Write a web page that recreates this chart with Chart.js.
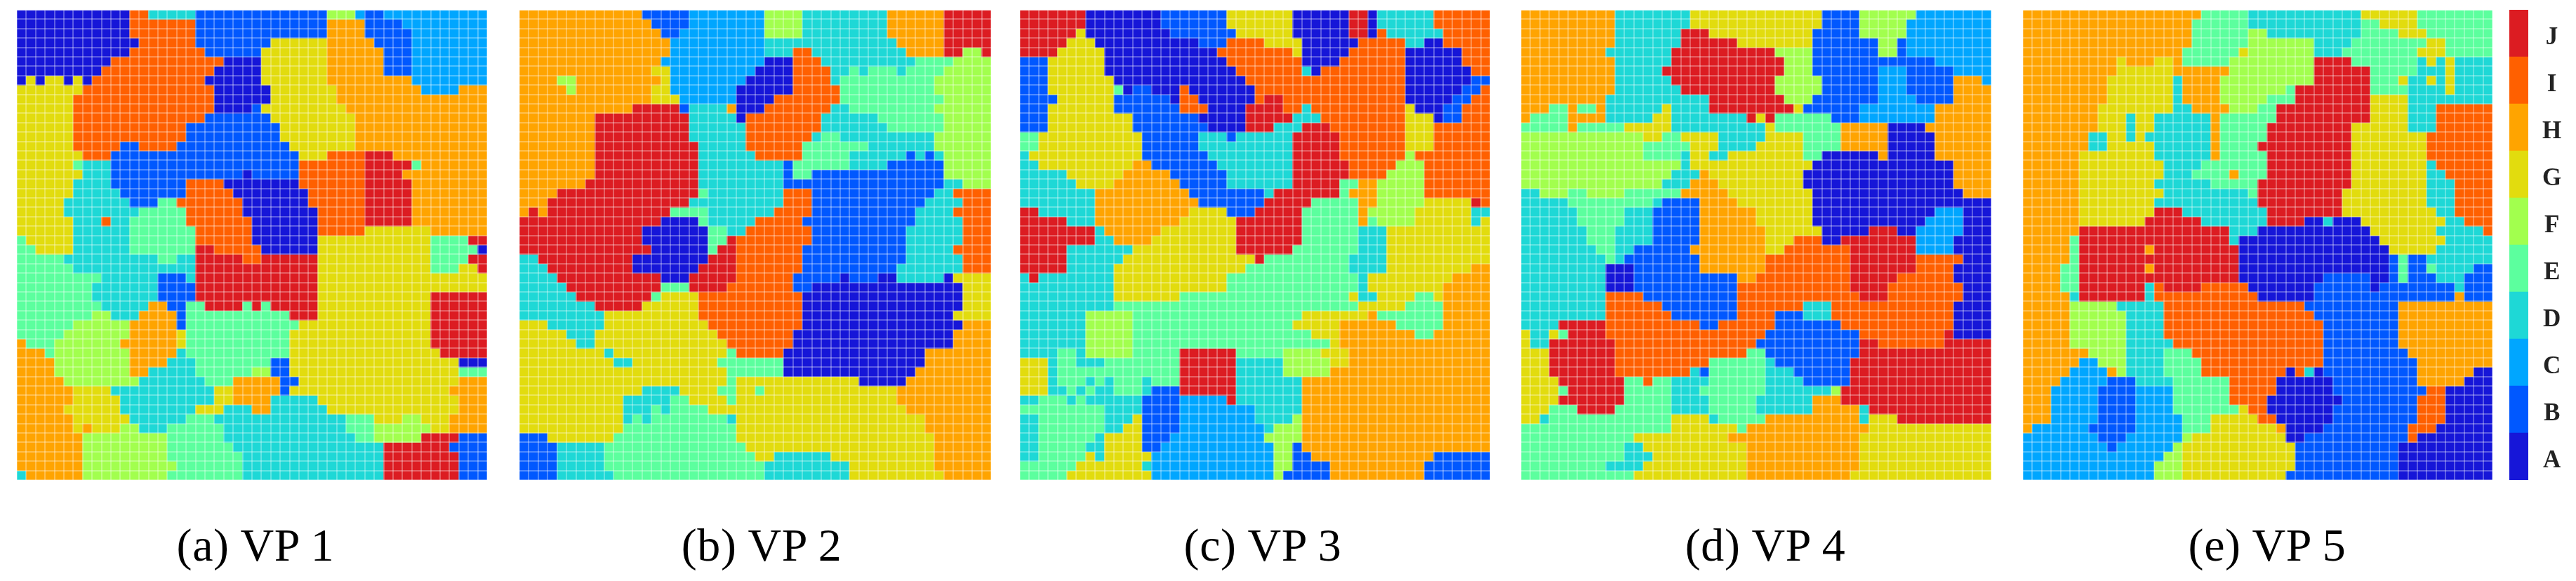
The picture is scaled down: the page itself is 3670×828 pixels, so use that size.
<!DOCTYPE html>
<html>
<head>
<meta charset="utf-8">
<title>VP maps</title>
<script src="https://cdn.jsdelivr.net/npm/chart.js@4/dist/chart.umd.min.js"></script>
<style>
  html, body { margin: 0; padding: 0; background: #fff; width: 3670px; height: 828px; overflow: hidden; }
  canvas { position: absolute; filter: blur(0.7px); }
  .caption {
    position: absolute; top: 737px; transform: translateX(-50%);
    font: 66px "Liberation Serif", serif; color: #000; white-space: pre; line-height: 80px;
    letter-spacing: 0.6px; filter: blur(0.5px);
  }
</style>
</head>
<body>
<script>
// ---- categories and colours ----
const categories = ["A", "B", "C", "D", "E", "F", "G", "H", "I", "J"];
const categoryColors = ["#1616d8", "#0058ff", "#00a6ff", "#1ed8d6", "#5cff9e", "#a2ff4e", "#e2dc0e", "#ffa400", "#ff6000", "#dc1c22"];
const captions = ["(a) VP 1", "(b) VP 2", "(c) VP 3", "(d) VP 4", "(e) VP 5"];

// ---- cell values, one string per row from the top: letter + column where that run ends ----
const vp1Rows = [
  "A12I14D19B33F36C37B39C50", "A12I19B33H37B41C50", "A12I19B33H37B42C50", "A13I19B27G33H38B42C50", "A12I20B26G33H39B42C50",
  "A10I22A26G33H39B42C50", "A9I21A26G33H39B42C50", "A1G2A3G5A6G7A8I20A26G33H42C50", "G7I21A27G34H43C47H50", "G6I21A27G34H50",
  "G6I21A25B26G35H50", "G6I20B27G36H50", "G6I18B28G36H50", "G6I18B28G36H50", "G6I11B13I17B29G36H50",
  "G7I10B30G33I37J40H50", "G6E7D10B30I37J42E43H50", "G7D10B24A25B30I37J41H50", "G6D10B18I22A30I37J42H50", "G6D11B18I23A31I37J42H50",
  "G5D12B15E17I24A31I37J42H50", "G5D13E18I24A32I37J42H50", "G6D9I10D12E18I25A32I37J42H50", "G6D12E19I25A32I37G44H50", "E1G6D12E19I25A32G44E48J50",
  "E2G6D12E19J21I26A32G44E49A50", "E5D15E17D19J24I26J32G44E48J50", "E6D19J32G44E47G49J50", "E9D15B18D19J32G50", "E8D15B19J32G50",
  "E8D15B19J32G44J50", "E9D14H16B18E20J24E25J26E27J32G44J50", "E8F10D13H17B18E29J32G44J50", "E6F12H17B18E30G44J50", "E5F12H17G18E29G44J50",
  "H1E4F11H17G18E29G44J50", "H3E4F12H17D18E29G45J50", "H4F12H16D19E27B29G47A50", "H4F12H14D19E25F27B29G47E50", "H5F13D20E23H28B30G47H50",
  "H6G10D21G23H28B29G46H50", "H6G11D21G23H27D32G47H50", "H5G11D19G22D25H27D33G47H50", "H6G12D18E21D35E38G41F43G46H50", "H6G7H8G11F13D16E22D35E38F44G46H50",
  "H7F16E22D36E38F43J47B50", "H7F16E23D39J46B50", "H7F16E24D39J47B50", "H7F17E24D39J47B50", "D1H7F16E24D39J47B50"
];
const vp2Rows = [
  "H13B18C26F30D39H45J50", "H14B18C26F30D39H45J50", "H15B17C26F30D39H45J50", "H16C26D40H45J50", "H16C26D29I31D41H45J47F49J50",
  "H15C26A29I32D42E46F50", "H14G16C25A29I33D35E36D37E40D41E45F50", "H4F6H15G16C24A29I33D34E44F50", "H5F6H14G16C23A29I34E44F50", "H14G17C23A27I34E45F50",
  "H12J17B18D22H23A26I33D35E44F50", "H8J18D23A24I32D38E45F50", "H8J18D24I32D39E45F50", "H8J18D24I31D32E34D44F50", "H8J19D24I30E37D44F50",
  "H8J19D25I30E35D41B42D43B44D45F50", "H8J19D28B29E35D39B45F50", "H8J19D28B29E31B45F50", "H7J19D28B45D47F50", "H4J19E20D28I31B44D46I50",
  "H3J18D28I31B43D47I50", "H1J2H3J16E20D27I31B42D46I50", "J15A19E20D25I30B42D47I50", "J13A20E22D24I31B41D47I50", "J13A20E22J23I31B41D47I50",
  "J14A20E21J23I30B41D46I50", "D2J12A20J23I30B41D47I50", "D3J12A19J23I30B40D47I50", "D4J15A18J23I29B34A35B38A40D45A46G50", "D5J15E18J22I29B31A47G50",
  "D6J14E15G19I30A47G50", "D8J13G19I30A47G50", "D9G19I30A46G50", "G3D9G20I30A47H50", "G5D8G21I29A46H50",
  "G6D8G22I29A46H50", "G9D10G22E23I28A43H50", "G10D12G21E28A43H50", "G22E28A42H50", "G22E23G36A41H50",
  "G13D17G21E23G25E26G40H50", "G11D16E18G22E23G40H50", "G11D14E15D16E20G41H50", "G11D12E13D14E22D23G43H50", "G11E23G43H50",
  "B3G10E23G44H50", "B4D9E24G44H50", "B4D9E25G27D33G44H50", "B4D9E26D35G44H50", "B4D10E26D35G45H50"
];
const vp3Rows = [
  "J7A15B22G29A35J37A38D44I50", "J7A15B22G29A35J37A38D44I50", "J6G7A16B23G29A35J37A38I39D45I50", "J5G8A19B22I26G30A36I41D43A45I50", "J4G9A21I29G30A35I41A47I50",
  "B3G9A22I30A34I41A47I50", "B3G9A23I30D31A32I41A48I50", "B3G10A24I41A48B50", "B3G10E11A12B14A17I18A25I41A47B49I50", "B4G10B16A17I19A25I26J28I41A46B48I50",
  "B3G10B17I20A24J28I30D31I41G42A45B47I50", "B3G12B19A24J29D32I41G44A45B47I50", "B3G12B20A24J27D30J33I41G44I50", "E2G13B19D22B23D29J34I41G44I50", "E2G13B19D29J34I41G44I50",
  "D1G13B20D29J34I41F42I50", "D2G12H14B21D29J35I40F43I50", "D5G11H16B22D29J35I39F43I50", "D6G10H17B22D29J34E36H38F43I50", "D8H18B26D27J34E35H38F43I50",
  "D8H19B26J31E36H38F43G48J49I50", "J2D8H18G22B25J30E36H37F42G48D50", "J5D8H17G23J30E36H37E38F42G48D49G50", "J8D9H15G23J30E36D39G50", "J8D10H14G23J30E36D39G50",
  "J5D12G23J29E36D39G50", "J5D11G25J26E35D39G50", "J5D10G24E35D39G48H50", "D1J2D10G22E36D37G46H50", "D10G22E36D37G45H50",
  "D10G17E35G36D38G42E44G45H50", "D10E36G41E45H50", "D7F12E30G37H38E45H50", "D7F12E29G34H40E45H50", "D7F12E31G34H42E44H50",
  "D7F12E33G34H50", "D4E6D7F12E17J23E28F32G35H50", "G3D4E6D9E17J23D28F33G35H50", "G3D4E17J23D28F33H50", "G3D4E7D8E9D10E13D14E17J23D30H50",
  "G3D5E6D7E8D10E13D14B17J23D30H50", "D2E5D6E7D13B17C22J23D30H50", "E9D13B17C25D30H50", "D2E9D12G13B17C25D29F30H50", "D2E9D11G13B17C26D27F30H50",
  "D2E8D9G13B16C26F30H50", "D2E7D9G13B15C27F29B30H50", "D2E7G8D9G14C27F29B31H44B50", "E6G13D14C27F29B33H43B50", "E5G14C27F28B33H43B50"
];
const vp4Rows = [
  "H10D18G32B36F42C50", "H10D18G32B36F41C50", "H10D17J20G31B36F41C50", "H10D17J23G31B38F40B41C50", "H9D16J27F31B38F40B41C50",
  "H10D16J28F31B44C50", "H10D15J28F31B38C41B46C50", "H10D16J27F32B38C41B46H49C50", "H10D17J27F32B38C41B46H50", "H9D20J28F31B38C42B46H50",
  "H3E5H6E8H9D15G16D20J29G30B36C44H50", "H1E5H9D14G16D24J25G26J27E33B36C44H50", "E5H6E11G16D26G27E34H39A43H50", "F13G15E17G21D26G30E34H39A44H50", "F13E18G21D25G30E34H39A44H50",
  "F13E17D18G20D22G30E32A38H39A44H50", "F17D18G31A46H50", "F16D19H20G30A46H50", "F15D18H21G30A46H50", "D2F5E7F11E17H22G31A47H50",
  "D5E14D15B19H23G31A50", "D6E11D14B19H25G31A44C47A50", "D6E11D14B19H25G31A43C47A50", "D7E10D14B19H26G32A37J40A42C47A50", "D7E10D14B19H26G29I32A34J42C46A50",
  "D8E10D12B18H26G28I35J42C46A50", "D9E10D11B19H26I35J42I47A50", "D9A12B19H26I35J42I46A50", "D9A12B23H25I35J40I46A50", "D9A12B23I35J39I47A50",
  "D9I13B23I36J39I47A50", "D9I15B23I30D33I46A50", "D9I16B23I27B30D33I46A50", "D4J9I19B21I27B34I46A50", "G1D3G4E5J9I26B36I45J46A50",
  "G1D3J10I25B36J38I45J50", "G3J10I24E26B36J50", "G3J10I20E26D27B35J50", "G3J10I18D19B20E26D29B35J50", "G4J11E13I14E16D20E26D30B35J50",
  "G4E5J11E16D19E26D33F34J50", "G4J11E16D20E25D31H34J50", "G3E6J10E16D20E25D31H36D37J50", "G2D3E16G20D21E26H36D37G40J50", "E16G23E24H37G50",
  "E12G22H36G50", "E11D13G24H36G50", "E11D14G24H36G50", "E9D13G24H36G50", "E12G24H35G50"
];
const vp5Rows = [
  "H19E24D36G42E50", "H18E24D36E38G42E50", "H18E24F26D36E40G43E50", "H18E24F31D35E43G45E50", "H17E23G24F31D34E42G45E50",
  "H10G11H14G16H17E22F31J35E42D43G44D45G46D50", "H10G16H22F31J37E42D45G46D50", "H9G16D17H21F31J37E40G41D43G44D45G46D50", "H9G16D17H21F28E29J37E41D45G46D50", "H9G16D17H21F26E29J37G41D50",
  "H8G16D18H22F25E27J37G41D44I50", "H8G11D12G14D20H21E27J37G41D44I50", "H8G11D12G14D20H21E26J35G41D44I50", "H7D9G11D12G13D20H21E26J35G43I50", "H7D9G14D20H21E25J35G43I50",
  "H6G14D20H21E26J35G43I50", "H6G15D19E26J35G43D44I50", "H6G15D18E22H23E26J35G43D45I50", "H6G14D20E25J35G43D46I50", "H6G15D24E25J34G43D46I50",
  "H6G14D25J34G43D46I50", "H6G14J17D26J34G44D46I50", "H6G13J19D26J30A32D33A36G45D47I50", "H6J22D25A37G44D49I50", "H5E6J22D23A38G45D50",
  "H5E6J13H14J23A39G44D50", "H5E6J23A39B40E41B43D50", "H4E6J13H14J23A39B40E41B43E44D48B50", "H4E6J23A32B37A39B40E41B44D47B50", "H4E6J13D14I15J19I24A31B37A38B46D47B50",
  "H5D6J13D14I25A31B46H47B50", "H5F10D15I30B40H50", "H5F11D15I31B40H50", "H5F11D15I32B40H50", "H5F11D15I32B40H50",
  "H5F11D16I32B40H50", "H7F11D15E18I32B41H50", "H6C8F11D15E19I32B42H50", "H5C9H10F11D15E19I28A29I30D31A32B42H48A50", "H4C9B12D16E22I27A33B42H47A50",
  "H3C8B12C16E22I27A33B43I45A50", "H3C8B12C16E22I26A34B42I45A50", "H3C8B12C16E23G24I26A33B42I45A50", "H3C8B12C17E20G25I27A33B42I45A50", "H1C7B12C17E20G27H28A32B41I44A50",
  "C8B11C17F18G28A30B41I42A50", "C9B10C16F17G29B40A50", "C15F17G29B40A50", "C14F17G29B40A50", "C14F17G28B40A50"
];
const panels = [vp1Rows, vp2Rows, vp3Rows, vp4Rows, vp5Rows];

// ---- layout ----
const panelLeft = [24, 740, 1453, 2167, 2882];
const panelWidth = [670, 672, 670, 670, 669];
const captionCenter = [364, 1085, 1799, 2515, 3230];
const panelTop = 14;
const panelHeight = 670;
const gridSize = 50;

function addCanvas(left, top, width, height) {
  const c = document.createElement("canvas");
  c.width = width;
  c.height = height;
  c.style.left = left + "px";
  c.style.top = top + "px";
  c.style.width = width + "px";
  c.style.height = height + "px";
  document.body.appendChild(c);
  return c;
}

// turns "A12I14..." into one letter per column
function decodeRow(row) {
  const cells = [];
  for (const m of row.matchAll(/([A-J])(\d+)/g)) {
    while (cells.length < Number(m[2])) cells.push(m[1]);
  }
  return cells;
}

const columnLabels = [...Array(gridSize).keys()].map(String);

function drawPanel(rows, i) {
  const canvas = addCanvas(panelLeft[i], panelTop, panelWidth[i], panelHeight);
  const datasets = rows.map(row => {
    const cells = decodeRow(row);
    return {
      data: cells.map(() => 1),
      backgroundColor: cells.map(l => categoryColors[categories.indexOf(l)]),
      borderWidth: 0,
      barPercentage: 1,
      categoryPercentage: 1
    };
  });

  new Chart(canvas, {
    type: "bar",
    data: { labels: columnLabels, datasets },
    options: {
      responsive: false,
      animation: false,
      devicePixelRatio: 1,
      layout: { padding: 0 },
      plugins: { legend: { display: false }, tooltip: { enabled: false } },
      scales: {
        x: {
          stacked: true,
          border: { display: false },
          ticks: { display: false, autoSkip: false },
          grid: { offset: true, z: 1, color: "rgba(255,255,255,0.3)", lineWidth: 2, drawTicks: false }
        },
        y: {
          stacked: true,
          reverse: true,
          min: 0,
          max: gridSize,
          border: { display: false },
          ticks: { display: false, stepSize: 1, maxTicksLimit: gridSize + 1 },
          grid: { z: 1, color: "rgba(255,255,255,0.3)", lineWidth: 2, drawTicks: false }
        }
      }
    }
  });

  const cap = document.createElement("div");
  cap.className = "caption";
  cap.style.left = captionCenter[i] + "px";
  cap.textContent = captions[i];
  document.body.appendChild(cap);
}

function drawColorbar() {
  const canvas = addCanvas(3575, panelTop, 95, panelHeight);
  const labels = [...categories].reverse();
  new Chart(canvas, {
    type: "bar",
    data: {
      labels,
      datasets: [{
        data: labels.map(() => 1),
        backgroundColor: [...categoryColors].reverse(),
        borderWidth: 0,
        barPercentage: 1,
        categoryPercentage: 1
      }]
    },
    options: {
      indexAxis: "y",
      responsive: false,
      animation: false,
      devicePixelRatio: 1,
      layout: { padding: 0 },
      plugins: { legend: { display: false }, tooltip: { enabled: false } },
      scales: {
        x: { display: false, min: 0, max: 1 },
        y: {
          position: "right",
          border: { display: false },
          grid: { display: false },
          afterFit(scale) {
            scale.width = 68;
            scale.paddingTop = 0;
            scale.paddingBottom = 0;
          },
          ticks: {
            padding: 12,
            labelOffset: 6,
            crossAlign: "center",
            color: "#222",
            font: { family: "'Liberation Serif', serif", weight: "bold", size: 35 }
          }
        }
      }
    }
  });
}

panels.forEach(drawPanel);
drawColorbar();
</script>
</body>
</html>
